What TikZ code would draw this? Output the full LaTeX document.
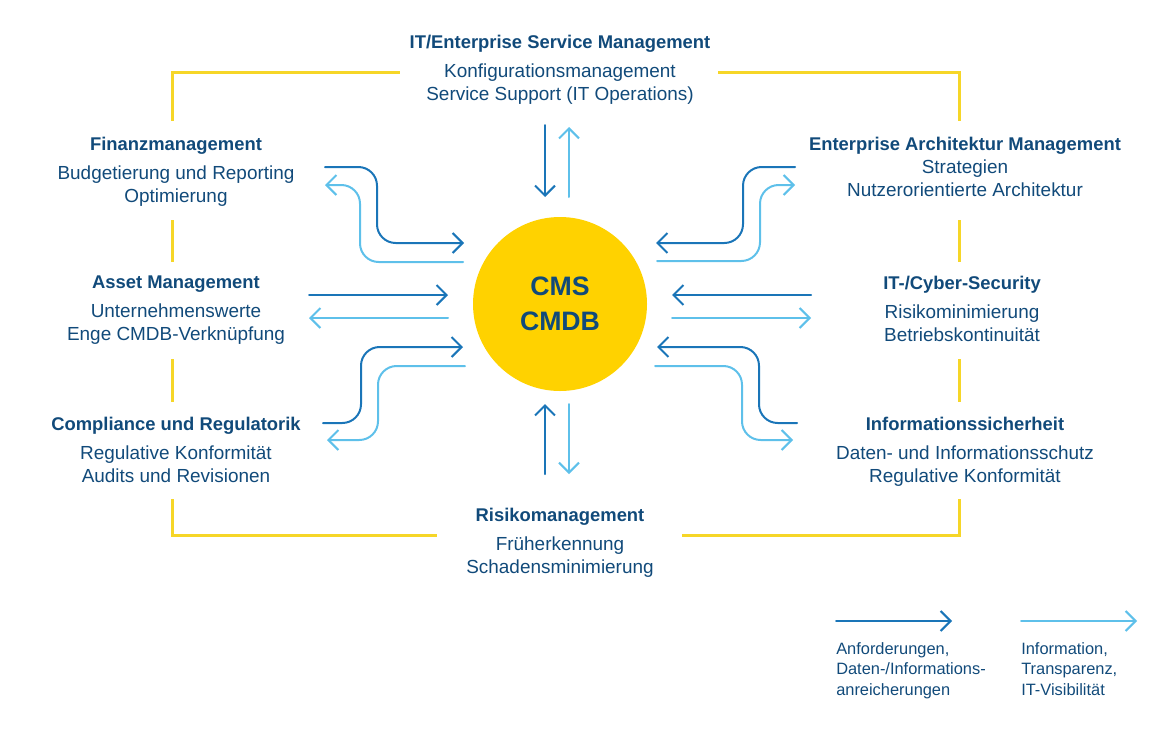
\documentclass[tikz,border=0pt]{standalone}
\usepackage{fontspec}
\setmainfont{Liberation Sans}
\usetikzlibrary{arrows.meta}
\newcommand{\fieldtitle}[1]{{\fontsize{13.8}{17.25}\selectfont\bfseries #1}}

\begin{document}
\begin{tikzpicture}
    [x=0.75pt,y=-0.75pt,line cap=round,
    % Styles
    frame line/.style={framecolor,line width=2.25pt,line cap=butt},
    flow/.style={line width=1.5pt,-{Straight Barb[length=7.5pt,width=15pt]}},
    req arrow/.style={flow,reqcolor},
    info arrow/.style={flow,infocolor},
    s curve/.style={rounded corners=14pt},
    block/.style={align=center,anchor=north,inner sep=0pt,text=textcolor,
      font=\fontsize{14.2}{17.25}\selectfont},
    legend text/.style={align=left,anchor=north west,inner sep=0pt,text=textcolor,
      font=\fontsize{12.3}{15.4}\selectfont},
    cms circle/.style={circle,fill=cmsyellow,minimum size=130.5pt,inner sep=0pt,
      align=center,text=textcolor,font=\fontsize{20}{26}\selectfont\bfseries}]
    % Colors
    \definecolor{textcolor}{RGB}{17,74,122}
    \definecolor{reqcolor}{RGB}{26,117,184}
    \definecolor{infocolor}{RGB}{94,192,234}
    \definecolor{cmsyellow}{RGB}{255,210,0}
    \definecolor{framecolor}{RGB}{246,214,40}
    \useasboundingbox (0,0) rectangle (1170,736);
    % The frame
    \draw[frame line] (172,121) |- (400,72);
    \draw[frame line] (718,72) -| (959,121);
    \foreach \x in {172,959}
      \foreach \ya/\yb in {220/262,359/402}
        \draw[frame line] (\x,\ya) -- (\x,\yb);
    \draw[frame line] (172,499) |- (437,535);
    \draw[frame line] (682,535) -| (959,499);
    % The hub
    \node[cms circle] (cmdb) at (560,304) {CMS\\CMDB};
    % The fields
    \node[block] (itsm) at (560,35)
      {\fieldtitle{IT/Enterprise Service Management}\\[4.5pt]Konfigurationsmanagement\\Service Support (IT Operations)};
    \node[block] (finanz) at (176,137)
      {\fieldtitle{Finanzmanagement}\\[4.5pt]Budgetierung und Reporting\\Optimierung};
    \node[block] (asset) at (176,276)
      {\fieldtitle{Asset Management}\\[4.5pt]Unternehmenswerte\\Enge CMDB-Verknüpfung};
    \node[block] (compliance) at (176,417)
      {\fieldtitle{Compliance und Regulatorik}\\[4.5pt]Regulative Konformität\\Audits und Revisionen};
    \node[block] (eam) at (965,137)
      {\fieldtitle{Enterprise Architektur Management}\\Strategien\\Nutzerorientierte Architektur};
    \node[block] (security) at (962,276)
      {\fieldtitle{IT-/Cyber-Security}\\[4.5pt]Risikominimierung\\Betriebskontinuität};
    \node[block] (infosec) at (965,417)
      {\fieldtitle{Informationssicherheit}\\[4.5pt]Daten- und Informationsschutz\\Regulative Konformität};
    \node[block] (risiko) at (560,508)
      {\fieldtitle{Risikomanagement}\\[4.5pt]Früherkennung\\Schadensminimierung};
    % Arrow ends
    \foreach \n/\x/\y in {ta/545/125, tb/545/197, tc/569/197, td/569/127,
      ba/545/474, bb/545/404, bc/569/404, bd/569/474,
      la/309/295, lb/448/295, lc/448/318, ld/309/318,
      ra/811/295, rb/672/295, rc/672/318, rd/811/318,
      fa/325/167, fb/464/243, fc/463/262, fd/325/185,
      ca/323/423, cb/463/347, cc/465/366, cd/327/440,
      ea/795/167, eb/656/243, ec/657/261, ed/795/185,
      ia/797/423, ib/657/347, ic/655/366, id/793/440}
      \coordinate (\n) at (\x,\y);
    % Straight arrows
    \foreach \s/\e in {ta/tb,ba/bb,la/lb,ra/rb}
      \draw[req arrow] (\s) -- (\e);
    \foreach \s/\e in {tc/td,bc/bd,lc/ld,rc/rd}
      \draw[info arrow] (\s) -- (\e);
    % Bent arrows
    \draw[req arrow,s curve] (fa) -- ++(52,0) |- (fb);
    \draw[info arrow,s curve] (fc) -- ++(-103,0) |- (fd);
    \draw[req arrow,s curve] (ca) -- ++(38,0) |- (cb);
    \draw[info arrow,s curve] (cc) -- ++(-87,0) |- (cd);
    \draw[req arrow,s curve] (ea) -- ++(-52,0) |- (eb);
    \draw[info arrow,s curve] (ec) -- ++(103,0) |- (ed);
    \draw[req arrow,s curve] (ia) -- ++(-38,0) |- (ib);
    \draw[info arrow,s curve] (ic) -- ++(87,0) |- (id);
    % Legend
    \coordinate (lg1) at (836,621);
    \coordinate (lg2) at (952,621);
    \coordinate (lg3) at (1021,621);
    \coordinate (lg4) at (1137,621);
    \draw[req arrow] (lg1) -- (lg2);
    \draw[info arrow] (lg3) -- (lg4);
    \node[legend text] (legreq) at (836,642)
      {Anforderungen,\\Daten-/Informations-\\anreicherungen};
    \node[legend text] (leginfo) at (1021,642)
      {Information,\\Transparenz,\\IT-Visibilität};
\end{tikzpicture}
\end{document}
